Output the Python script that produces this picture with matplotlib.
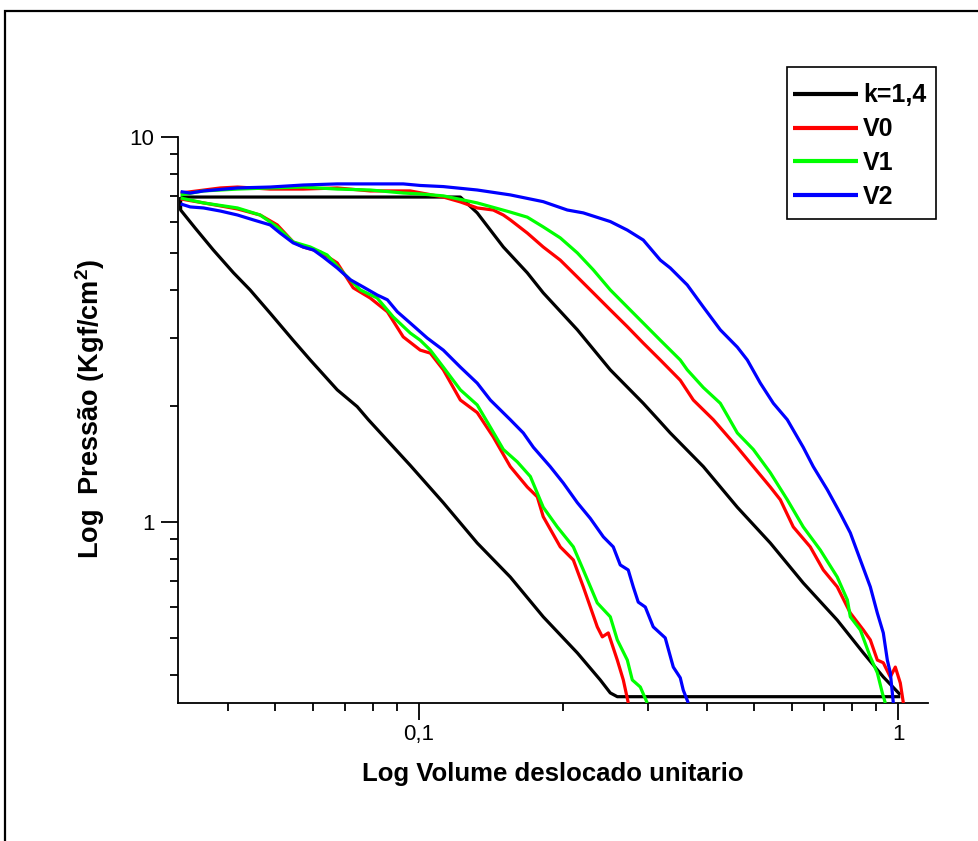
import matplotlib
matplotlib.use("Agg")
import matplotlib.pyplot as plt
from matplotlib.ticker import LogLocator, NullFormatter
from matplotlib.patches import Rectangle

# ---------------- data ----------------
series_names = ["k=1,4", "V0", "V1", "V2"]
series_colors = ["#000000", "#ff0000", "#00ff00", "#0000ff"]

# k = 1,4 (theoretical cycle)
k_upper_x = [0.0318, 0.1220, 0.1323, 0.1500, 0.1683, 0.1817, 0.2141, 0.2508, 0.2939, 0.3159,
             0.3346, 0.3923, 0.4619, 0.5413, 0.6341, 0.7467, 0.8466, 0.9317, 1.011]
k_upper_y = [6.97, 6.97, 6.34, 5.17, 4.43, 3.93, 3.15, 2.48, 2.03, 1.84,
             1.70, 1.39, 1.09, 0.880, 0.693, 0.555, 0.456, 0.395, 0.355]
k_lower_x = [1.011, 0.2594, 0.2508, 0.2390, 0.2141, 0.1817, 0.1551, 0.1323, 0.1124, 0.0959,
             0.0784, 0.0743, 0.0675, 0.0593, 0.0546, 0.0489, 0.0444, 0.0410, 0.0372, 0.0341,
             0.0318, 0.0318]
k_lower_y = [0.351, 0.351, 0.359, 0.388, 0.456, 0.566, 0.718, 0.880, 1.12, 1.40,
             1.84, 1.99, 2.20, 2.63, 2.96, 3.48, 4.00, 4.43, 5.08, 5.79,
             6.45, 6.97]

# V0
v0_upper_x = [0.0318, 0.0385, 0.0418, 0.0489, 0.0573, 0.0675, 0.0791, 0.0959, 0.1124, 0.1220,
              0.1323, 0.1429, 0.1500, 0.1551, 0.1683, 0.1817, 0.1972, 0.2141, 0.2311, 0.2508,
              0.2722, 0.2939, 0.3190, 0.3511, 0.3738, 0.4116, 0.4619, 0.4988, 0.5413, 0.5679,
              0.6044, 0.6558, 0.6983, 0.7467, 0.7951, 0.8466, 0.8753, 0.9053, 0.9317, 0.9636,
              0.9871, 1.011, 1.026]
v0_upper_y = [7.14, 7.36, 7.40, 7.31, 7.31, 7.36, 7.23, 7.23, 6.97, 6.77,
              6.53, 6.45, 6.26, 6.08, 5.62, 5.17, 4.78, 4.32, 3.93, 3.55,
              3.21, 2.91, 2.63, 2.33, 2.07, 1.84, 1.56, 1.39, 1.23, 1.14,
              0.969, 0.860, 0.749, 0.677, 0.579, 0.523, 0.493, 0.437, 0.430, 0.395,
              0.419, 0.381, 0.338]
v0_lower_x = [0.0318, 0.0355, 0.0418, 0.0466, 0.0506, 0.0546, 0.0573, 0.0622, 0.0675, 0.0729,
              0.0791, 0.0859, 0.0927, 0.1006, 0.1056, 0.1124, 0.1220, 0.1323, 0.1429, 0.1551,
              0.1683, 0.1766, 0.1817, 0.1972, 0.2100, 0.2203, 0.2356, 0.2414, 0.2484, 0.2594,
              0.2670, 0.2735]
v0_lower_y = [6.89, 6.73, 6.49, 6.26, 5.90, 5.33, 5.17, 5.02, 4.70, 4.05,
              3.81, 3.51, 3.02, 2.79, 2.74, 2.48, 2.07, 1.92, 1.66, 1.39,
              1.23, 1.16, 1.03, 0.860, 0.795, 0.677, 0.533, 0.502, 0.514, 0.437,
              0.388, 0.338]

# V1
v1_upper_x = [0.0318, 0.0355, 0.0418, 0.0489, 0.0573, 0.0675, 0.0791, 0.0927, 0.1006, 0.1124,
              0.1323, 0.1551, 0.1683, 0.1817, 0.1972, 0.2141, 0.2311, 0.2508, 0.2722, 0.2939,
              0.3190, 0.3511, 0.3631, 0.3923, 0.4256, 0.4421, 0.4619, 0.4988, 0.5413, 0.5873,
              0.6341, 0.6882, 0.7467, 0.7839, 0.7951, 0.8344, 0.8753, 0.9053, 0.9273, 0.9408]
v1_upper_y = [7.06, 7.23, 7.31, 7.36, 7.40, 7.31, 7.27, 7.14, 7.10, 7.02,
              6.73, 6.37, 6.18, 5.83, 5.46, 4.99, 4.51, 4.00, 3.61, 3.28,
              2.96, 2.63, 2.48, 2.23, 2.03, 1.87, 1.70, 1.54, 1.34, 1.14,
              0.969, 0.844, 0.718, 0.626, 0.566, 0.523, 0.445, 0.405, 0.359, 0.338]
v1_lower_x = [0.0318, 0.0355, 0.0418, 0.0466, 0.0506, 0.0546, 0.0593, 0.0643, 0.0695, 0.0754,
              0.0818, 0.0884, 0.0959, 0.1006, 0.1056, 0.1124, 0.1220, 0.1323, 0.1409, 0.1500,
              0.1604, 0.1708, 0.1817, 0.1944, 0.2100, 0.2203, 0.2356, 0.2508, 0.2594, 0.2722,
              0.2788, 0.2897, 0.2996]
v1_lower_y = [6.93, 6.73, 6.53, 6.26, 5.83, 5.33, 5.17, 4.93, 4.43, 4.00,
              3.81, 3.40, 3.09, 2.96, 2.79, 2.52, 2.20, 2.01, 1.76, 1.54,
              1.43, 1.31, 1.09, 0.969, 0.860, 0.749, 0.615, 0.566, 0.493, 0.437,
              0.388, 0.372, 0.338]

# V2
v2_upper_x = [0.0318, 0.0333, 0.0355, 0.0418, 0.0489, 0.0573, 0.0675, 0.0791, 0.0927, 0.1006,
              0.1124, 0.1323, 0.1551, 0.1817, 0.2040, 0.2203, 0.2508, 0.2722, 0.2939, 0.3190,
              0.3346, 0.3631, 0.3923, 0.4256, 0.4619, 0.4846, 0.5159, 0.5492, 0.5873, 0.6341,
              0.6653, 0.7119, 0.7577, 0.7951, 0.8344, 0.8753, 0.9053, 0.9317, 0.9499, 0.9636,
              0.9730, 0.9777]
v2_upper_y = [7.20, 7.14, 7.23, 7.36, 7.40, 7.49, 7.54, 7.54, 7.54, 7.47,
              7.42, 7.27, 7.06, 6.78, 6.45, 6.34, 6.02, 5.72, 5.39, 4.78,
              4.56, 4.12, 3.61, 3.15, 2.84, 2.63, 2.29, 2.03, 1.84, 1.56,
              1.39, 1.21, 1.05, 0.935, 0.795, 0.677, 0.579, 0.514, 0.437, 0.405,
              0.359, 0.338]
v2_lower_x = [0.0318, 0.0333, 0.0355, 0.0385, 0.0418, 0.0451, 0.0489, 0.0513, 0.0546, 0.0573,
              0.0602, 0.0631, 0.0675, 0.0719, 0.0765, 0.0818, 0.0859, 0.0901, 0.0959, 0.1040,
              0.1124, 0.1220, 0.1323, 0.1409, 0.1551, 0.1651, 0.1733, 0.1879, 0.2001, 0.2141,
              0.2278, 0.2426, 0.2544, 0.2631, 0.2734, 0.2801, 0.2869, 0.2968, 0.3083, 0.3266,
              0.3395, 0.3511, 0.3562, 0.3649]
v2_lower_y = [6.69, 6.57, 6.53, 6.41, 6.26, 6.08, 5.90, 5.62, 5.30, 5.17,
              5.08, 4.87, 4.56, 4.25, 4.07, 3.88, 3.77, 3.51, 3.28, 3.00,
              2.79, 2.52, 2.29, 2.07, 1.84, 1.70, 1.56, 1.39, 1.26, 1.12,
              1.02, 0.913, 0.860, 0.772, 0.749, 0.677, 0.618, 0.600, 0.533, 0.499,
              0.419, 0.393, 0.365, 0.338]

x_ticks = [0.1, 1]
x_tick_labels = ["0,1", "1"]
y_ticks = [1, 10]
y_tick_labels = ["1", "10"]
x_limits = (0.0314, 1.155)
y_limits = (0.338, 10)

x_label = "Log Volume deslocado unitario"
y_label = "Log  Pressão (Kgf/cm$\\mathbf{^2}$)"

# ---------------- figure ----------------
plt.rcParams["font.family"] = ["Liberation Sans", "DejaVu Sans"]
plt.rcParams["mathtext.fontset"] = "custom"
plt.rcParams["mathtext.rm"] = "Liberation Sans"
plt.rcParams["mathtext.bf"] = "Liberation Sans:bold"

W, H = 979, 841
fig = plt.figure(figsize=(W / 100, H / 100), dpi=100)
ax = fig.add_axes([178 / W, 1 - 703 / H, (928 - 178) / W, (703 - 136.7) / H])

# outer frame (right and bottom edges fall outside the image)
top = 1 - 11 / H
fig.add_artist(Rectangle((5 / W, -0.2), 1.5, top + 0.2, transform=fig.transFigure,
                         fill=False, edgecolor="black", linewidth=1.6))

lw = 2.3
all_series = [
    (k_upper_x, k_upper_y, k_lower_x, k_lower_y),
    (v0_upper_x, v0_upper_y, v0_lower_x, v0_lower_y),
    (v1_upper_x, v1_upper_y, v1_lower_x, v1_lower_y),
    (v2_upper_x, v2_upper_y, v2_lower_x, v2_lower_y),
]
handles = []
for i, (ux, uy, lx, ly) in enumerate(all_series):
    h, = ax.plot(ux, uy, color=series_colors[i], lw=lw, solid_joinstyle="round",
                 solid_capstyle="butt", zorder=2 + i, label=series_names[i])
    ax.plot(lx, ly, color=series_colors[i], lw=lw, solid_joinstyle="round",
            solid_capstyle="butt", zorder=2 + i)
    handles.append(h)

ax.set_xscale("log")
ax.set_yscale("log")
ax.set_xlim(*x_limits)
ax.set_ylim(*y_limits)

ax.set_xticks(x_ticks)
ax.set_xticklabels(x_tick_labels)
ax.set_yticks(y_ticks)
ax.set_yticklabels(y_tick_labels)
ax.xaxis.set_minor_locator(LogLocator(base=10, subs=range(2, 10)))
ax.yaxis.set_minor_locator(LogLocator(base=10, subs=range(2, 10)))
ax.xaxis.set_minor_formatter(NullFormatter())
ax.yaxis.set_minor_formatter(NullFormatter())

for s in ["top", "right"]:
    ax.spines[s].set_visible(False)
for s in ["left", "bottom"]:
    ax.spines[s].set_linewidth(1.3)

ax.tick_params(which="major", direction="out", length=12, width=1.3, labelsize=16)
ax.tick_params(axis="x", which="major", pad=3)
ax.tick_params(axis="y", which="major", pad=5)
ax.tick_params(which="minor", direction="out", length=6, width=1.3)

ax.set_xlabel(x_label, fontsize=18.5, fontweight="bold")
ax.xaxis.set_label_coords(0.5, -0.104)
ax.set_ylabel(y_label, fontsize=19.5, fontweight="bold")
ax.yaxis.set_label_coords(-0.095, 0.52)

# legend: entries placed in figure coordinates, frame drawn separately
lfs = 18
leg = fig.legend(handles=handles, loc="upper left", bbox_to_anchor=(793 / W, 1 - 83.5 / H),
                 prop={"weight": "bold", "size": lfs}, frameon=False,
                 handlelength=2.6, handletextpad=0.2, labelspacing=0.39, borderpad=0,
                 borderaxespad=0)
for line in leg.get_lines():
    line.set_linewidth(3)
fig.add_artist(Rectangle((787 / W, 1 - 219 / H), (936 - 787) / W, (219 - 67) / H,
                         transform=fig.transFigure, fill=False, edgecolor="black", linewidth=1.2))

fig.savefig("out.png", dpi=100)
